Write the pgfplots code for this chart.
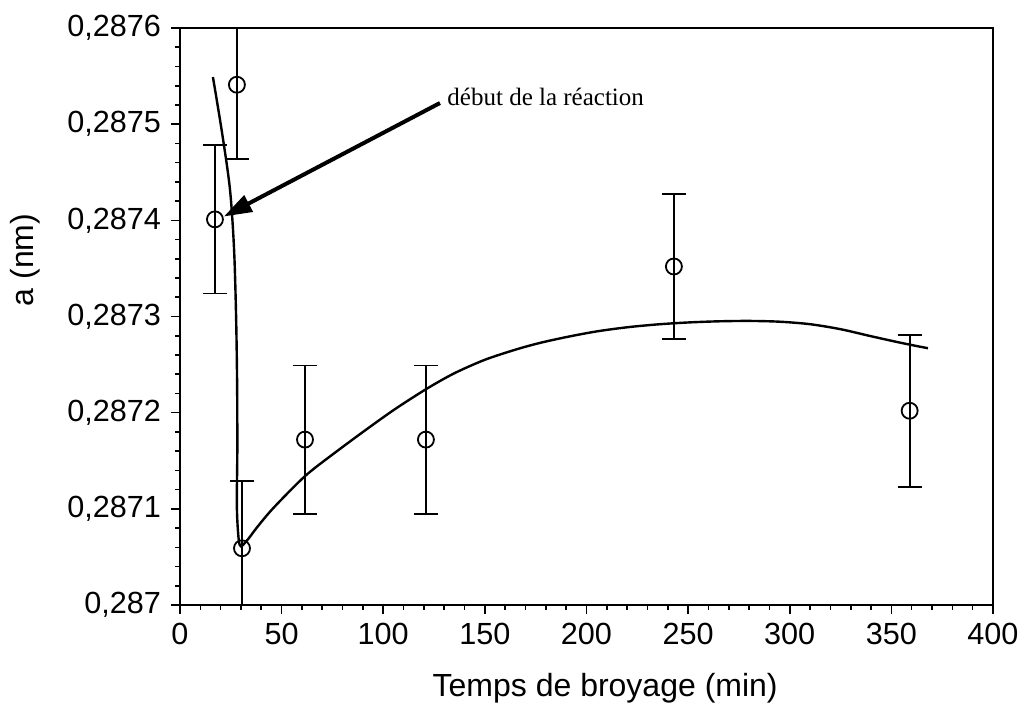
\documentclass[border=0pt]{standalone}
\usepackage{pgfplots}
\pgfplotsset{compat=1.18}
\usepackage{fontspec}
\setmainfont{Liberation Sans}
\newfontfamily\seriffont{Liberation Serif}
\usetikzlibrary{arrows.meta}
\begin{document}
\begin{tikzpicture}
\useasboundingbox (-90pt,-51pt) rectangle (421pt,302.5pt);
\begin{axis}[
  scale only axis,
  width=406.5pt, height=288.5pt,
  xmin=0, xmax=400, ymin=0.287, ymax=0.2876,
  xtick={0,50,...,400},
  ytick={0.287,0.2871,0.2872,0.2873,0.2874,0.2875,0.2876},
  minor x tick num=4, minor y tick num=4,
  tick align=outside, xtick pos=bottom, ytick pos=left,
  major tick length=4.5pt, minor tick length=2.5pt,
  axis line style={line width=1pt},
  every tick/.style={black, line width=0.8pt},
  scaled y ticks=false,
  /pgf/number format/assume math mode=true,
  yticklabel style={xshift=-1.5pt, /pgf/number format/.cd, fixed, precision=4, use comma},
  ticklabel style={font=\fontsize{15.3}{18}\selectfont},
  xticklabel style={yshift=-1pt},
  xlabel={Temps de broyage (min)},
  ylabel={a (nm)},
  label style={font=\fontsize{16}{19}\selectfont},
  xlabel style={at={(axis description cs:0.523,0)}, anchor=center, yshift=-41.5pt},
  ylabel style={at={(axis description cs:-0.1907,0.598)}, anchor=center},
]
% fitted curve
\addplot[black, line width=1.2pt, smooth, tension=0.5] coordinates {
  (16.2,0.287549) (20.7,0.287491) (24.6,0.287432) (26.6,0.287370)
  (27.6,0.287300) (28.1,0.287230) (28.2,0.287161) (28.0,0.287100)
  (29.3,0.287063) (32.5,0.287066) (38,0.287081) (46,0.287101)
  (61.5,0.287134) (76,0.287158) (92,0.287183) (106,0.287204)
  (121.5,0.287225) (135,0.287241) (150,0.287255) (165,0.2872655)
  (177,0.2872725) (191,0.287279) (205,0.2872845) (220,0.2872888)
  (235,0.2872918) (250,0.2872938) (265,0.287295) (280,0.2872954)
  (295,0.2872946) (310,0.287292) (325,0.2872868) (340,0.2872795)
  (355,0.2872725) (368,0.287267)
};
% data with error bars
\addplot[black, line width=0.9pt, only marks, mark=o, mark size=4pt,
  mark options={fill=white, line width=0.9pt},
  error bars/.cd, y dir=both, y explicit,
  error bar style={line width=0.9pt},
  error mark options={rotate=90, mark size=6pt, line width=0.9pt}]
  coordinates {
  (17.2,0.287401) +- (0,0.000077)
  (28,0.287541) +- (0,0.000077)
  (30.5,0.287059) +- (0,0.000070)
  (61.5,0.287172) +- (0,0.000077)
  (121,0.287172) +- (0,0.000077)
  (243,0.287352) +- (0,0.000075)
  (359,0.287202) +- (0,0.000079)
};
\draw[line width=2pt, -{Triangle[length=14pt, width=9pt]}]
  (axis cs:127.9,0.287522) -- (axis cs:21.6,0.287404);
\node[anchor=base west, inner sep=0pt, font=\seriffont\fontsize{12.5}{15}\selectfont]
  at (axis cs:131.4,0.287519) {début de la réaction};
\end{axis}
\end{tikzpicture}
\end{document}
